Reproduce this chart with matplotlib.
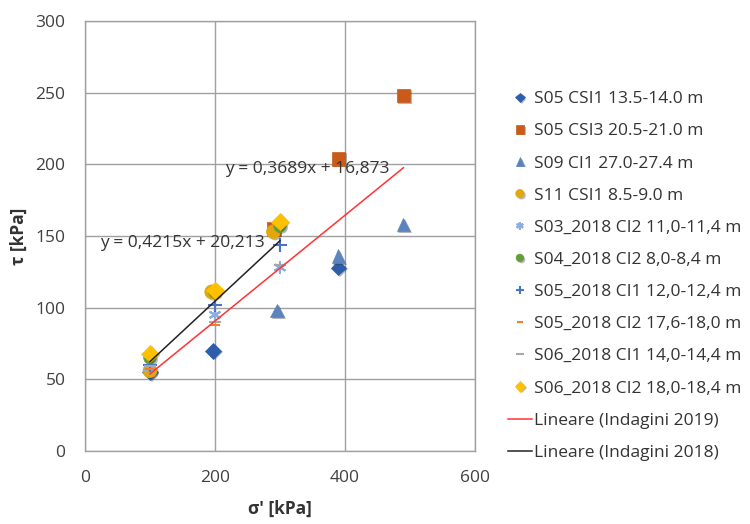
import matplotlib
matplotlib.use("Agg")
import matplotlib.pyplot as plt
import matplotlib.patheffects as pe
import numpy as np

plt.rcParams['font.family'] = ['Open Sans', 'DejaVu Sans']

# Direct shear results: effective normal stress (kPa) vs. shear strength (kPa)
series_names = [
    "S05 CSI1 13.5-14.0 m",
    "S05 CSI3 20.5-21.0 m",
    "S09 CI1 27.0-27.4 m",
    "S11 CSI1 8.5-9.0 m",
    "S03_2018 CI2 11,0-11,4 m",
    "S04_2018 CI2 8,0-8,4 m",
    "S05_2018 CI1 12,0-12,4 m",
    "S05_2018 CI2 17,6-18,0 m",
    "S06_2018 CI1 14,0-14,4 m",
    "S06_2018 CI2 18,0-18,4 m",
]
sigma = [
    [100, 197, 390],
    [290, 390, 490],
    [296, 390, 490],
    [100, 195, 290],
    [100, 200, 300],
    [100, 200, 300],
    [100, 200, 300],
    [100, 200, 300],
    [100, 200, 300],
    [100, 200, 300],
]
tau = [
    [55, 70, 128],
    [155, 204, 248],
    [98, 136, 158],
    [56, 111, 153],
    [58, 95, 128],
    [65, 111, 157],
    [60, 102, 144],
    [57, 88, 130],
    [59, 90, 130],
    [68, 112, 160],
]
markers = ['D', 's', '^', 'o', (6, 2, 0), 'o', '+', '_', '_', 'D']
sizes = [8, 10, 10, 10, 9, 9, 10, 7, 9, 9]
colors = ['#2E5DAA', '#C95A1A', '#5B83BF', '#E2A70C', '#8EAEDD',
          '#5F9E3A', '#4A74C6', '#ED7D31', '#A8A8A8', '#FFC000']

# Linear trend lines (slope, intercept, x range)
trend_2019 = (0.3689, 16.873, (100, 490))
trend_2018 = (0.4215, 20.213, (100, 300))
eq_2019 = "y = 0,3689x + 16,873"
eq_2018 = "y = 0,4215x + 20,213"

fig = plt.figure(figsize=(7.5, 5.24), dpi=100)
ax = fig.add_axes([0.1133, 0.1393, 0.52, 0.8207])

shadow = [pe.SimplePatchShadow(offset=(1.2, -1.2), alpha=0.35, shadow_rgbFace='#333333'), pe.Normal()]

handles = []
for name, xs, ys, m, s, c in zip(series_names, sigma, tau, markers, sizes, colors):
    line_like = m in ('+', '_', (6, 2, 0))
    h, = ax.plot(xs, ys, linestyle='none', marker=m, markersize=s,
                 color=c, markerfacecolor=c, markeredgecolor=c,
                 markeredgewidth=1.5 if line_like else 0.5,
                 label=name, path_effects=shadow, zorder=3)
    handles.append(h)

for (k, b, (x0, x1)), col, lab in [
        (trend_2019, '#FF3333', "Lineare (Indagini 2019)"),
        (trend_2018, '#222222', "Lineare (Indagini 2018)")]:
    xx = np.array([x0, x1])
    h, = ax.plot(xx, k * xx + b, color=col, lw=1.1, label=lab, zorder=4)
    handles.append(h)

ax.text(215, 197, eq_2019, fontsize=12.5, color='#333333', va='center', ha='left', zorder=5)
ax.text(23, 145, eq_2018, fontsize=12.5, color='#333333', va='center', ha='left', zorder=5)

ax.set_xlim(0, 600)
ax.set_ylim(0, 300)
ax.set_xticks([0, 200, 400, 600])
ax.set_yticks(range(0, 301, 50))
ax.grid(True, color='#A0A0A0', lw=1.0)
ax.set_axisbelow(True)
for sp in ax.spines.values():
    sp.set_color('#A0A0A0')
    sp.set_linewidth(1.0)
ax.tick_params(axis='y', length=0, labelsize=12.5, colors='#404040', pad=14)
ax.tick_params(axis='x', length=0, labelsize=12.5, colors='#404040', pad=14)

ax.set_xlabel("σ' [kPa]", fontsize=12.5, fontweight='bold', color='#333333', va='center')
ax.set_ylabel("τ [kPa]", fontsize=12.5, fontweight='bold', color='#333333', va='center')
ax.xaxis.set_label_coords(0.5, -0.135)
ax.yaxis.set_label_coords(-0.17, 0.5)

leg = fig.legend(handles=handles, loc='upper left', bbox_to_anchor=(0.677, 0.826),
                 frameon=False, fontsize=12.5, labelspacing=0.92, markerscale=0.6,
                 handlelength=1.4, handletextpad=0.12, borderaxespad=0, borderpad=0)
for t in leg.get_texts():
    t.set_color('#333333')

fig.savefig("out.png", dpi=100)
